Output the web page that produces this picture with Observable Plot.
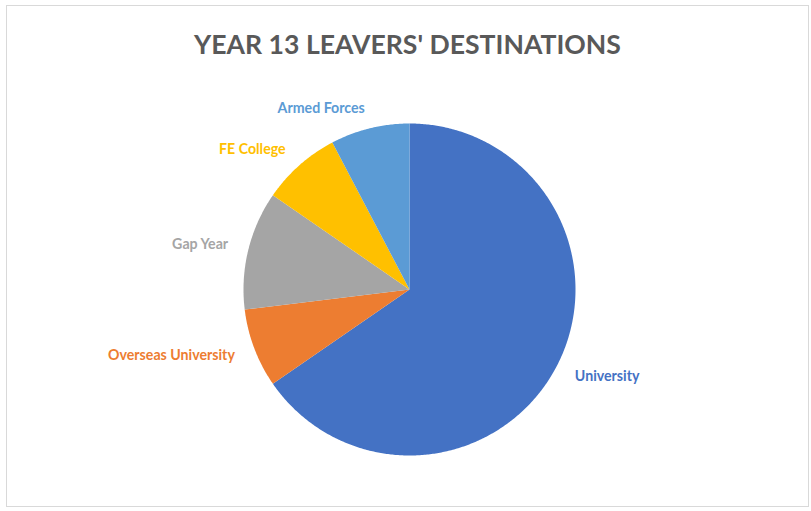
<!DOCTYPE html>
<html>
<head>
<meta charset="utf-8">
<script src="https://cdn.jsdelivr.net/npm/d3@7"></script>
<script src="https://cdn.jsdelivr.net/npm/@observablehq/plot@0.6"></script>
<style>
  html, body { margin: 0; padding: 0; background: #fff; }
  #frame { position: absolute; left: 6px; top: 5px; width: 803px; height: 502px; border: 1px solid #d9d9d9; box-sizing: border-box; }
  #wrap { position: absolute; left: 0; top: 0; width: 811px; height: 511px; }
  #title { height: 70px; box-sizing: border-box; padding-top: 29px; text-align: center; font-family: Lato, sans-serif; font-weight: 700; font-size: 26.6px; line-height: 30px; color: #595959; padding-left: 4px; }
  #chart svg { display: block; }
</style>
</head>
<body>
<div id="frame"></div>
<div id="wrap">
  <div id="title">YEAR 13 LEAVERS' DESTINATIONS</div>
  <div id="chart"></div>
</div>
<script>
const categories = ["University", "Overseas University", "Gap Year", "FE College", "Armed Forces"];
const counts = [17, 2, 3, 2, 2];
const colors = ["#4472C4", "#ED7D31", "#A5A5A5", "#FFC000", "#5B9BD5"];

const W = 811, H = 441;
const R = 166;            // pie radius in px
const cx = 409, cy = 219; // pie centre in svg px
const labelR = 1.125;     // label distance in units of radius

const data = categories.map((c, i) => ({name: c, value: counts[i]}));
const arcs = d3.pie().value(d => d.value).sort(null)(data);

// polygon points for each slice (unit circle, y up)
const pts = [];
arcs.forEach(a => {
  const name = a.data.name;
  pts.push({name, x: 0, y: 0});
  const n = Math.max(4, Math.ceil((a.endAngle - a.startAngle) / (Math.PI / 360)));
  for (let k = 0; k <= n; k++) {
    const t = a.startAngle + (a.endAngle - a.startAngle) * k / n;
    pts.push({name, x: Math.sin(t), y: Math.cos(t)});
  }
  pts.push({name, x: 0, y: 0});
});

const labels = arcs.map(a => {
  const m = (a.startAngle + a.endAngle) / 2;
  return {name: a.data.name, x: labelR * Math.sin(m), y: labelR * Math.cos(m), right: Math.sin(m) > 0};
});

const xDomain = [-cx / R, (W - cx) / R];
const yDomain = [-(H - cy) / R, cy / R];

const chart = Plot.plot({
  width: W,
  height: H,
  margin: 0,
  x: {domain: xDomain, axis: null},
  y: {domain: yDomain, axis: null},
  color: {domain: categories, range: colors},
  style: {background: "transparent", overflow: "visible"},
  marks: [
    Plot.line(pts, {x: "x", y: "y", z: "name", fill: "name", stroke: null, curve: "linear",
      style: "filter: drop-shadow(0px 1px 2px rgba(0,0,0,0.25))"}),
    Plot.text(labels.filter(d => !d.right), {x: "x", y: "y", text: "name", fill: "name", textAnchor: "end",
      fontFamily: "Lato, sans-serif", fontWeight: 700, fontSize: 14.2}),
    Plot.text(labels.filter(d => d.right), {x: "x", y: "y", text: "name", fill: "name", textAnchor: "start",
      fontFamily: "Lato, sans-serif", fontWeight: 700, fontSize: 14.2})
  ]
});
document.getElementById("chart").appendChild(chart);
</script>
</body>
</html>
